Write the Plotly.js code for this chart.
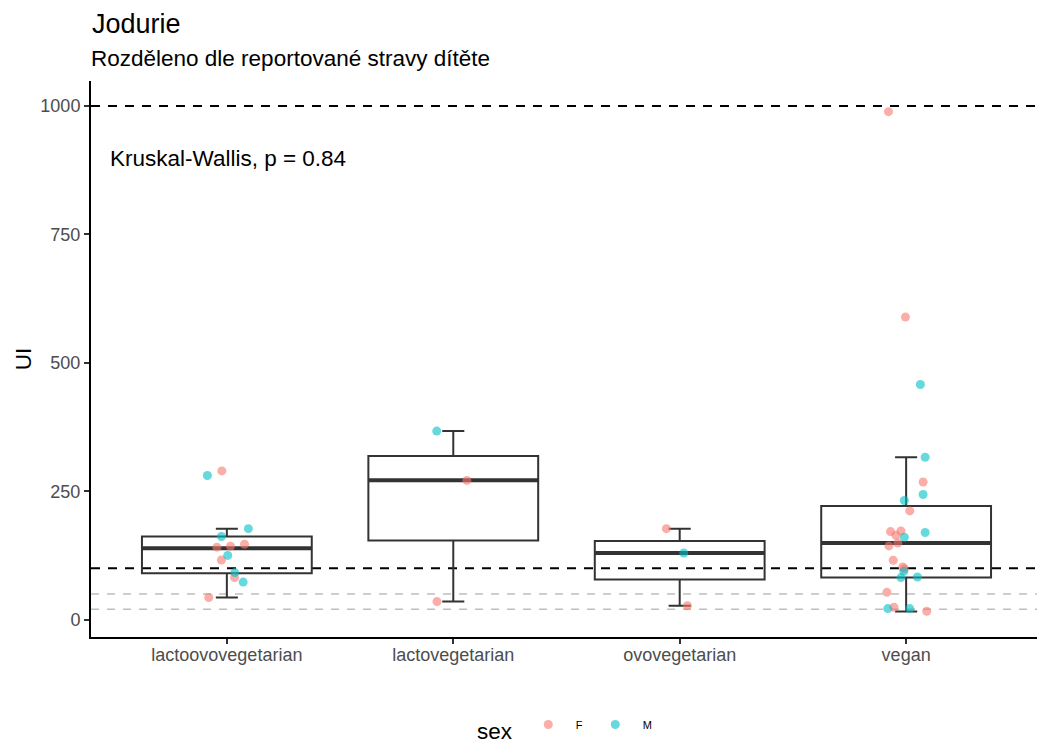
<!DOCTYPE html>
<html>
<head>
<meta charset="utf-8">
<script src="https://cdn.plot.ly/plotly-3.0.1.min.js"></script>
<style>html,body{margin:0;padding:0;background:#fff;}#chart{width:1037px;height:743px;}</style>
</head>
<body>
<div id="chart"></div>
<script>
// ---- data ----
const categories = ["lactoovovegetarian", "lactovegetarian", "ovovegetarian", "vegan"];

// box statistics per diet (same order as categories)
const boxLower  = [43, 35, 27, 15.6];
const boxQ1     = [90, 154, 78, 81.8];
const boxMedian = [139, 271.4, 129.7, 149.2];
const boxQ3     = [161.7, 318.7, 153, 221.3];
const boxUpper  = [177, 367, 177, 316];

// individual children, sex F
const fDiet = ["lactoovovegetarian","lactoovovegetarian","lactoovovegetarian","lactoovovegetarian","lactoovovegetarian","lactoovovegetarian","lactoovovegetarian",
  "lactovegetarian","lactovegetarian",
  "ovovegetarian","ovovegetarian",
  "vegan","vegan","vegan","vegan","vegan","vegan","vegan","vegan","vegan","vegan","vegan","vegan","vegan","vegan","vegan"];
const fValue = [289.5, 141, 143, 146.7, 116, 82, 43,
  271, 35,
  177, 27,
  989, 589, 268, 211.6, 171.4, 172.6, 164, 149, 143.4, 115.5, 102.5, 99, 53, 24, 16];
const fJitter = [-0.022, -0.044, 0.016, 0.078, -0.024, 0.034, -0.080,
  0.060, -0.072,
  -0.059, 0.034,
  -0.078, -0.003, 0.075, 0.016, -0.069, -0.023, -0.045, -0.037, -0.076, -0.057, -0.015, -0.008, -0.085, -0.054, 0.091];

// individual children, sex M
const mDiet = ["lactoovovegetarian","lactoovovegetarian","lactoovovegetarian","lactoovovegetarian","lactoovovegetarian","lactoovovegetarian",
  "lactovegetarian",
  "ovovegetarian",
  "vegan","vegan","vegan","vegan","vegan","vegan","vegan","vegan","vegan","vegan","vegan"];
const mValue = [280.5, 177, 161.7, 125, 91.5, 73,
  367,
  129.7,
  457.8, 316, 243.5, 231.8, 160.3, 169.5, 94, 81.8, 83, 21.4, 21.4];
const mJitter = [-0.086, 0.095, -0.024, 0.004, 0.035, 0.072,
  -0.073,
  0.018,
  0.063, 0.084, 0.075, -0.008, -0.008, 0.084, -0.010, -0.023, 0.050, -0.081, 0.016];

const refLinesBlack = [1000, 100];
const refLinesGray  = [50, 20];

const titleText = "Jodurie";
const subtitleText = "Rozděleno dle reportované stravy dítěte";
const testText = "Kruskal-Wallis, p = 0.84";

// ---- build ----
const FONT = "Liberation Sans, Arial, sans-serif";
const catPos = categories.map((c, i) => i + 1);
const posOf = d => categories.indexOf(d) + 1;

const boxTrace = {
  type: "box",
  x: catPos,
  q1: boxQ1, median: boxMedian, q3: boxQ3,
  lowerfence: boxLower, upperfence: boxUpper,
  width: 0.75,
  whiskerwidth: 0.13,
  boxpoints: false,
  fillcolor: "rgba(0,0,0,0)",
  line: {color: "#333333", width: 2},
  showlegend: false,
  hoverinfo: "skip"
};
const medianTrace = {
  type: "box",
  x: catPos,
  q1: boxMedian, median: boxMedian, q3: boxMedian,
  lowerfence: boxMedian, upperfence: boxMedian,
  width: 0.75,
  whiskerwidth: 0,
  boxpoints: false,
  fillcolor: "rgba(0,0,0,0)",
  line: {color: "#333333", width: 4},
  showlegend: false,
  hoverinfo: "skip"
};
const fTrace = {
  type: "scatter", mode: "markers", name: "F",
  x: fDiet.map((d, i) => posOf(d) + fJitter[i]),
  y: fValue,
  marker: {color: "#F8766D", size: 9, opacity: 0.6}
};
const mTrace = {
  type: "scatter", mode: "markers", name: "M",
  x: mDiet.map((d, i) => posOf(d) + mJitter[i]),
  y: mValue,
  marker: {color: "#00BFC4", size: 9, opacity: 0.6}
};

const shapes = [];
refLinesGray.forEach(v => shapes.push({type: "line", xref: "paper", x0: 0, x1: 1, yref: "y", y0: v, y1: v,
  line: {color: "#BEBEBE", width: 1.5, dash: "8px,8px"}, layer: "below"}));
refLinesBlack.forEach(v => shapes.push({type: "line", xref: "paper", x0: 0, x1: 1, yref: "y", y0: v, y1: v,
  line: {color: "#000000", width: 2, dash: "9px,8px"}, layer: "below"}));

const layout = {
  width: 1037, height: 743,
  margin: {l: 91, r: 0, t: 81, b: 106, autoexpand: false},
  paper_bgcolor: "#ffffff", plot_bgcolor: "#ffffff",
  font: {family: FONT, color: "#000"},
  title: {
    text: titleText,
    font: {family: FONT, size: 27, color: "#000"},
    x: 92 / 1037, xref: "container", xanchor: "left",
    y: 1 - 24 / 743, yref: "container", yanchor: "middle"
  },
  xaxis: {
    range: [0.4, 4.578],
    tickvals: catPos, ticktext: categories,
    showgrid: false, zeroline: false,
    showline: true, linecolor: "#000", linewidth: 2,
    ticks: "outside", ticklen: 5, tickwidth: 2, tickcolor: "#333",
    ticklabelstandoff: -5,
    tickfont: {family: FONT, size: 18, color: "#4D4D4D"}
  },
  yaxis: {
    range: [-33.9, 1048.7],
    tickvals: [0, 250, 500, 750, 1000],
    showgrid: false, zeroline: false,
    showline: true, linecolor: "#000", linewidth: 2,
    ticks: "outside", ticklen: 5, tickwidth: 2, tickcolor: "#333",
    tickfont: {family: FONT, size: 18, color: "#4D4D4D"},
    title: {text: "UI", font: {family: FONT, size: 22.5, color: "#000"}, standoff: 2}
  },
  shapes: shapes,
  annotations: [{
    text: subtitleText, xref: "paper", yref: "paper", x: -2 / 946, y: (636.7 - 59) / 555.7,
    xanchor: "left", yanchor: "middle", showarrow: false,
    font: {family: FONT, size: 22.5, color: "#000"}
  }, {
    text: testText, xref: "x", yref: "y", x: 0.475, y: 898,
    xanchor: "left", yanchor: "middle", showarrow: false,
    font: {family: FONT, size: 22.5, color: "#000"}
  }],
  showlegend: true,
  legend: {
    orientation: "h", x: 0.5 + 2 / 946, xanchor: "center", xref: "paper",
    y: (743 - 730) / 743, yref: "container", yanchor: "middle",
    title: {text: "sex", side: "left", font: {family: FONT, size: 22.5, color: "#000"}},
    font: {family: FONT, size: 11, color: "#000"},
    itemwidth: 45
  }
};

Plotly.newPlot("chart", [boxTrace, medianTrace, fTrace, mTrace], layout, {displayModeBar: false, staticPlot: true});
</script>
</body>
</html>
